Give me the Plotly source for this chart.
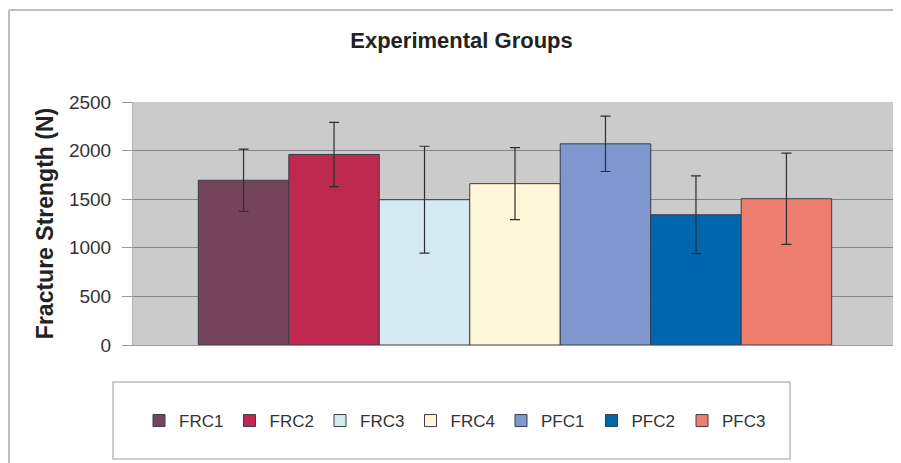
import plotly.graph_objects as go

groups = ["FRC1", "FRC2", "FRC3", "FRC4", "PFC1", "PFC2", "PFC3"]
strength = [1695, 1960, 1495, 1660, 2070, 1340, 1505]
err = [320, 330, 550, 370, 285, 400, 470]
colors = ["#74445B", "#BE2950", "#D4EAF1", "#FEF8D8", "#7E97CE", "#0067AF", "#EE7F70"]

# the page body has an 8px margin, so the figure is drawn 8px smaller
W, H = 893, 455
L, R, T, B = 125, 4, 94, 118
pw, ph = W - L - R, H - T - B

def px(x):
    return (x - L) / pw

def py(y):
    return (H - B - y) / ph

fig = go.Figure()
for g, v, e, c in zip(groups, strength, err, colors):
    fig.add_trace(go.Bar(
        x=[0], y=[v], name=g,
        marker=dict(color=c, line=dict(color="#3C3C4A", width=1)),
        error_y=dict(type="data", array=[e], color="#2E2E2E", thickness=1.2, width=5),
    ))

fig.update_layout(
    width=W, height=H,
    margin=dict(l=L, r=R, t=T, b=B),
    paper_bgcolor="white",
    plot_bgcolor="#CBCBCB",
    barmode="group", bargap=0.171, bargroupgap=0,
    font=dict(family="Liberation Sans, Arial, sans-serif", color="#222"),
    title=dict(text="<b>Experimental Groups</b>", x=453.5 / W, xanchor="center",
               xref="container", y=1 - 32 / H, yanchor="middle", yref="container",
               font=dict(size=22, color="#222")),
    showlegend=True,
    legend=dict(orientation="h", x=px(131), xanchor="left", y=py(413), yanchor="middle",
                entrywidth=45.5, entrywidthmode="pixels", bgcolor="rgba(0,0,0,0)",
                font=dict(size=17, color="#333"), traceorder="normal"),
    xaxis=dict(showticklabels=False, showgrid=False, zeroline=False, range=[-0.5, 0.5],
               showline=True, linecolor="#9A9A9A", linewidth=1, fixedrange=True),
    yaxis=dict(range=[0, 2500], dtick=500, showgrid=True, gridcolor="#858585", gridwidth=1,
               zeroline=False, ticks="outside", ticklen=10, tickcolor="#9A9A9A",
               ticklabelstandoff=7,
               showline=True, linecolor="#B0B0B0", linewidth=1,
               tickfont=dict(size=19, color="#333"),
               title=dict(text="<b>Fracture Strength (N)</b>", font=dict(size=23, color="#222"),
                          standoff=8)),
    shapes=[
        # outer chart border
        dict(type="line", xref="paper", yref="paper", x0=px(1), x1=px(W), y0=py(2), y1=py(2),
             line=dict(color="#BDBDBD", width=2)),
        dict(type="line", xref="paper", yref="paper", x0=px(1), x1=px(1), y0=py(2), y1=py(H),
             line=dict(color="#BDBDBD", width=2)),
        # legend box
        dict(type="rect", xref="paper", yref="paper", x0=px(105), x1=px(782), y0=py(374), y1=py(451),
             line=dict(color="#BDBDBD", width=1.5), fillcolor="rgba(0,0,0,0)"),
    ],
)

fig.write_html("out.html")
